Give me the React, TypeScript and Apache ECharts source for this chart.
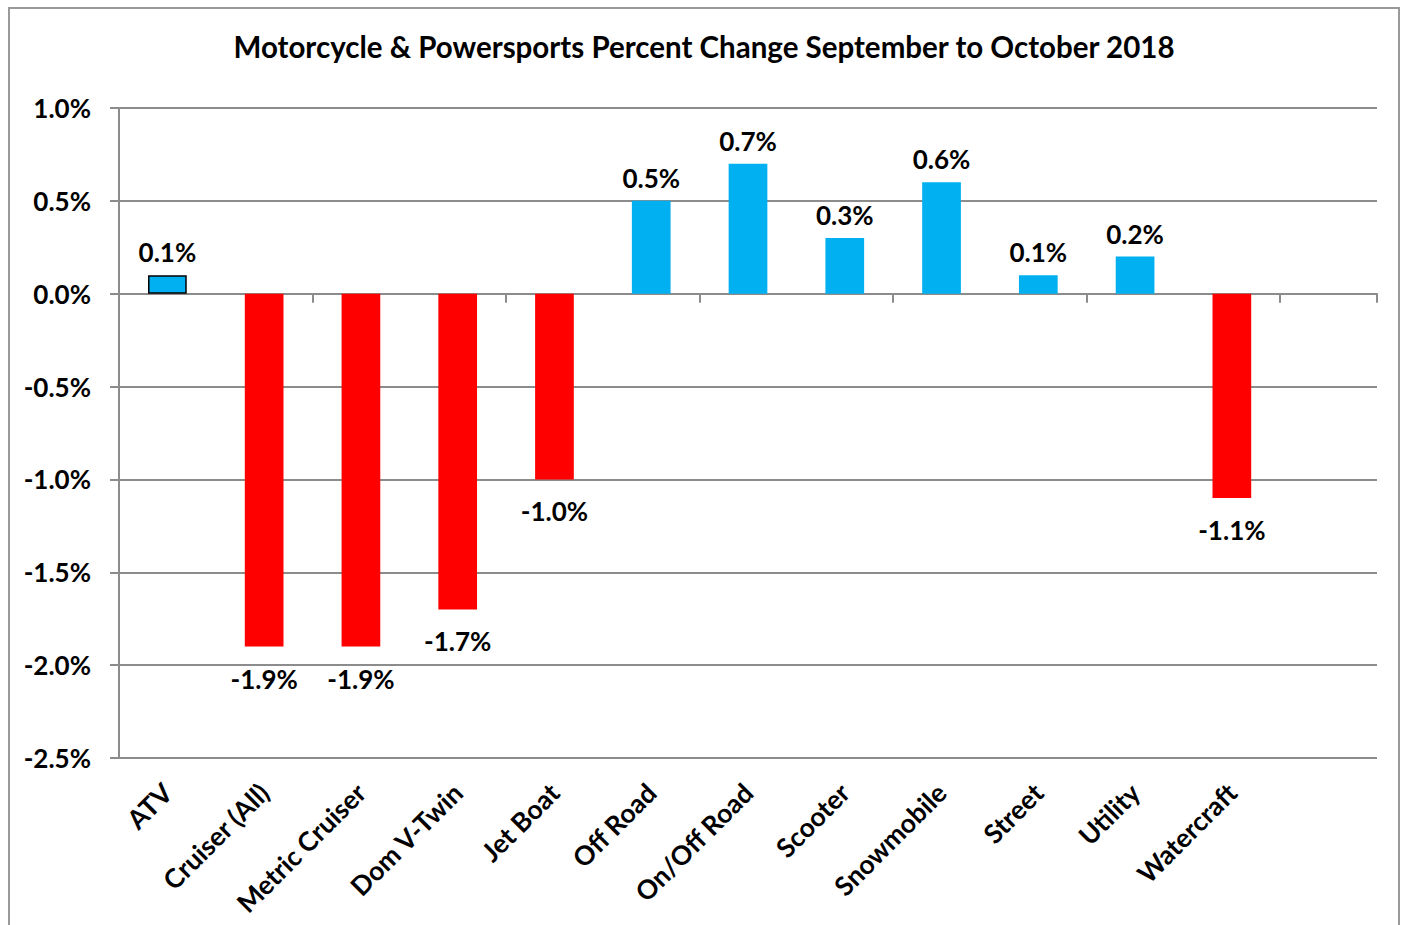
import React, { useEffect, useRef } from "react";
import * as echarts from "echarts";

const TITLE = "Motorcycle & Powersports Percent Change September to October 2018";
const categories = [
  "ATV",
  "Cruiser (All)",
  "Metric Cruiser",
  "Dom V-Twin",
  "Jet Boat",
  "Off Road",
  "On/Off Road",
  "Scooter",
  "Snowmobile",
  "Street",
  "Utility",
  "Watercraft",
  "",
];
const values: (number | null)[] = [0.1, -1.9, -1.9, -1.7, -1.0, 0.5, 0.7, 0.3, 0.6, 0.1, 0.2, -1.1, null];
const yMin = -2.5;
const yMax = 1.0;
const yStep = 0.5;

const FONT = "Lato";
const GRAY = "#8c8c8c";
const BLUE = "#00B0F0";
const RED = "#FF0000";

export default function App() {
  const ref = useRef<HTMLDivElement>(null);
  useEffect(() => {
    if (!ref.current) return;
    const chart = echarts.init(ref.current, null, { renderer: "svg" });
    const data = values.map((v, i) => {
      if (v === null) return { value: null };
      const pos = v >= 0;
      return {
        value: v,
        itemStyle: {
          color: pos ? BLUE : RED,
          borderColor: i === 0 ? "#000" : undefined,
          borderWidth: i === 0 ? 1.5 : 0,
        },
        label: {
          position: pos ? "top" : "bottom",
          distance: pos ? 10 : 19,
        },
      };
    });
    chart.setOption({
      animation: false,
      backgroundColor: "#fff",
      title: {
        text: TITLE,
        left: "center",
        top: 17,
        textStyle: { fontFamily: FONT, fontWeight: "bold", fontSize: 29.5, color: "#000" },
      },
      grid: { left: 109, right: 21, top: 99, bottom: 167, containLabel: false },
      xAxis: [
        {
          type: "category",
          data: categories,
          position: "bottom",
          axisLine: { onZero: true, lineStyle: { color: GRAY, width: 2 } },
          axisTick: { show: true, length: 9, lineStyle: { color: GRAY, width: 2 } },
          axisLabel: { show: false },
        },
        {
          type: "category",
          data: categories,
          position: "bottom",
          axisLine: { show: false, onZero: false },
          axisTick: { show: false },
          axisLabel: {
            rotate: 45,
            margin: 30,
            interval: 0,
            fontFamily: FONT,
            fontWeight: "bold",
            fontSize: 26.5,
            color: "#000",
          },
        },
      ],
      yAxis: {
        type: "value",
        min: yMin,
        max: yMax,
        interval: yStep,
        axisLine: { show: true, lineStyle: { color: GRAY, width: 2 } },
        axisTick: { show: true, length: 9, lineStyle: { color: GRAY, width: 2 } },
        splitLine: { show: true, lineStyle: { color: GRAY, width: 2 } },
        axisLabel: {
          margin: 28,
          fontFamily: FONT,
          fontWeight: "bold",
          fontSize: 26,
          color: "#000",
          formatter: (v: number) => v.toFixed(1) + "%",
        },
      },
      series: [
        {
          type: "bar",
          xAxisIndex: 0,
          data,
          barWidth: "40%",
          label: {
            show: true,
            fontFamily: FONT,
            fontWeight: "bold",
            fontSize: 26,
            color: "#000",
            formatter: (p: any) => Number(p.value).toFixed(1) + "%",
          },
        },
      ],
    });
    return () => chart.dispose();
  }, []);
  return (
    <div
      style={{
        position: "fixed",
        left: 8,
        top: 7,
        width: 1392,
        height: 918,
        borderTop: "2px solid #999",
        borderLeft: "2px solid #999",
        borderRight: "2px solid #999",
        boxSizing: "border-box",
        background: "#fff",
      }}
    >
      <div ref={ref} style={{ width: "100%", height: "100%" }} />
    </div>
  );
}
